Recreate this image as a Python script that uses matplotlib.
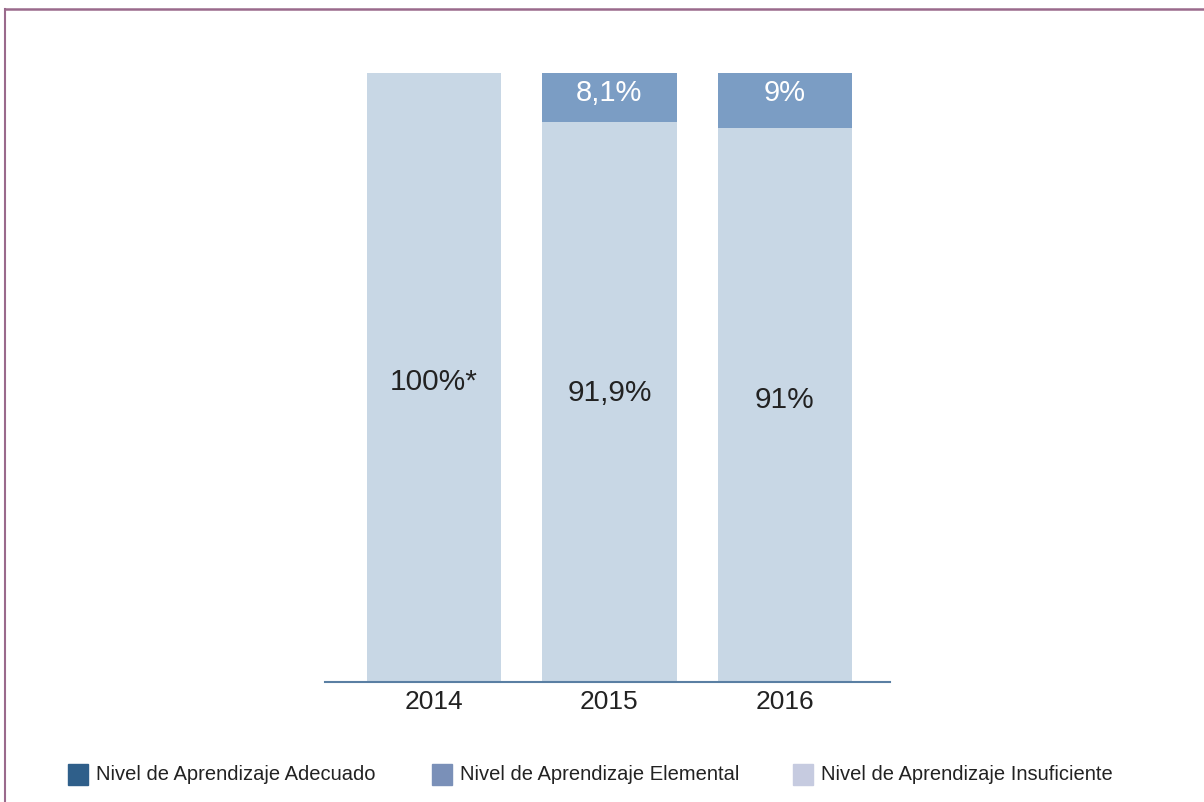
import numpy as np
import matplotlib.pyplot as plt
from matplotlib.patches import Rectangle
from matplotlib.lines import Line2D

years = ["2014", "2015", "2016"]
insuficiente = [100.0, 91.9, 91.0]
elemental = [0.0, 8.1, 9.0]
adecuado = [0.0, 0.0, 0.0]
low_labels = ["100%*", "91,9%", "91%"]
top_labels = ["", "8,1%", "9%"]
legend_labels = ["Nivel de Aprendizaje Adecuado",
                 "Nivel de Aprendizaje Elemental",
                 "Nivel de Aprendizaje Insuficiente"]

c_light = "#c8d7e5"
c_mid = "#7b9dc4"
c_dark = "#2f5f8a"
legend_colors = [c_dark, "#7a90b8", "#c6cbe0"]

plt.rcParams["font.family"] = ["Liberation Sans", "DejaVu Sans"]

fig = plt.figure(figsize=(12.04, 8.03), dpi=100)
ax = fig.add_axes([0.27, 0.1494, 0.469, 0.7584])

x = np.arange(len(years))
ax.bar(x, insuficiente, width=0.765, color=c_light)
ax.bar(x, elemental, width=0.765, bottom=insuficiente, color=c_mid)

label_y = [49.4, 47.6, 46.5]
for i in range(len(years)):
    ax.text(x[i], label_y[i], low_labels[i], ha="center", va="center",
            fontsize=21.5, color="#222222")
    if top_labels[i]:
        ax.text(x[i], insuficiente[i] + elemental[i] - 3.1, top_labels[i],
                ha="center", va="center", fontsize=21, color="white")

ax.set_xlim(-0.621, 2.598)
ax.set_ylim(0, 100)
for s in ["top", "right", "left"]:
    ax.spines[s].set_visible(False)
ax.spines["bottom"].set_color("#5a7fa3")
ax.spines["bottom"].set_linewidth(1.5)
ax.set_yticks([])
ax.set_xticks(x)
ax.set_xticklabels(years, fontsize=19, color="#222222")
ax.tick_params(axis="x", length=0, pad=5)

# legend entries
leg_x = [68, 432, 793]
for lab, col, px in zip(legend_labels, legend_colors, leg_x):
    fig.patches.append(Rectangle((px / 1204, 1 - 786 / 803), 20 / 1204, 21 / 803,
                                 transform=fig.transFigure, color=col))
    fig.text((px + 28) / 1204, 1 - 775 / 803, lab, fontsize=14.5,
             color="#222222", va="center", ha="left")

# frame
fig.add_artist(Line2D([5 / 1204, 1], [1 - 10 / 803, 1 - 10 / 803],
                      transform=fig.transFigure, color="#9a6a8c", lw=1.8))
fig.add_artist(Line2D([5 / 1204, 5 / 1204], [0, 1 - 10 / 803],
                      transform=fig.transFigure, color="#9a6a8c", lw=1.5))

fig.savefig("out.png", dpi=100)
